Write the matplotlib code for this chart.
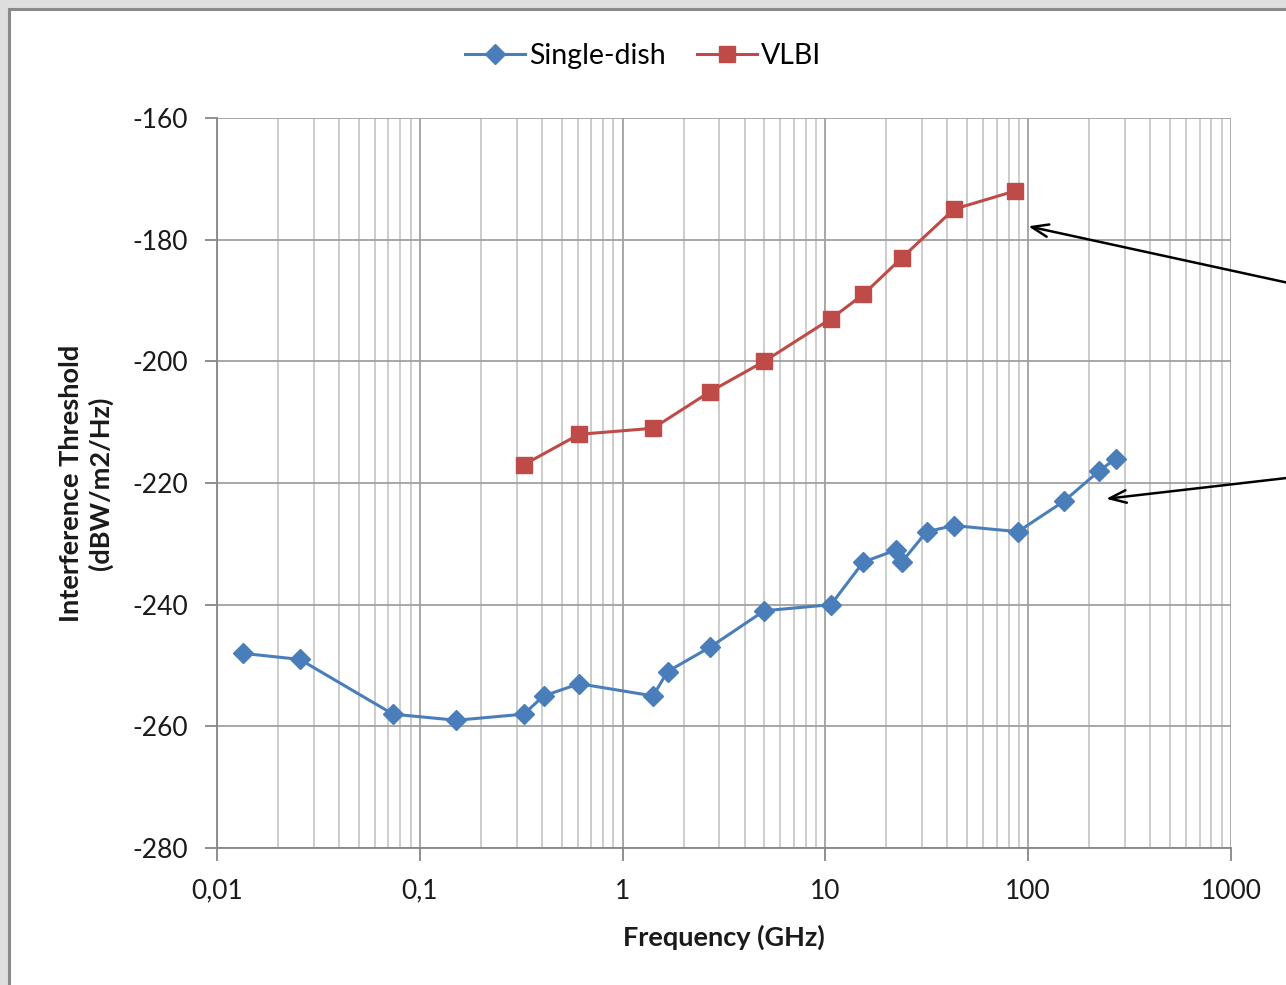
import matplotlib
matplotlib.use("Agg")
import matplotlib.pyplot as plt
from matplotlib.patches import Rectangle
from matplotlib.ticker import FixedLocator, FixedFormatter, LogLocator, NullFormatter

plt.rcParams['font.family'] = ['Lato', 'DejaVu Sans']

# Single-dish thresholds (frequency in GHz, level in dB(W/m2/Hz))
sd_freq = [0.013385, 0.02561, 0.0738, 0.1515, 0.3253, 0.408, 0.611, 1.4135, 1.665,
           2.695, 4.995, 10.65, 15.375, 22.355, 23.8, 31.55, 43.0, 89.0, 150.0, 224.0, 270.0]
sd_level = [-248, -249, -258, -259, -258, -255, -253, -255, -251,
            -247, -241, -240, -233, -231, -233, -228, -227, -228, -223, -218, -216]

# VLBI thresholds
vlbi_freq = [0.3253, 0.611, 1.4135, 2.695, 4.995, 10.65, 15.375, 23.8, 43.0, 86.0]
vlbi_level = [-217, -212, -211, -205, -200, -193, -189, -183, -175, -172]

x_ticks = [0.01, 0.1, 1, 10, 100, 1000]
x_tick_labels = ['0,01', '0,1', '1', '10', '100', '1000']
y_ticks = [-280, -260, -240, -220, -200, -180, -160]
y_tick_labels = ['-280', '-260', '-240', '-220', '-200', '-180', '-160']

W, H = 1286, 985
fig = plt.figure(figsize=(W / 100, H / 100), dpi=100, facecolor='#dedede')

# white chart area with grey frame
fig.patches.append(Rectangle((9 / W, -0.1), 1.2, (H - 9) / H + 0.1, transform=fig.transFigure,
                             facecolor='white', edgecolor='#8a8a8a', linewidth=2.2, zorder=-5))

ax = fig.add_axes([217 / W, (H - 848) / H, (1231 - 217) / W, (848 - 118) / H])
ax.set_facecolor('white')

blue = '#4a7ebb'
red = '#be4b48'
ax.plot(sd_freq, sd_level, color=blue, lw=2.2, marker='D', ms=10.5, mec=blue, mfc=blue,
        label='Single-dish', zorder=3)
ax.plot(vlbi_freq, vlbi_level, color=red, lw=2.2, marker='s', ms=11.5, mec=red, mfc=red,
        label='VLBI', zorder=3)

ax.set_xscale('log')
ax.set_xlim(0.01, 1000)
ax.set_ylim(-280, -160)

ax.xaxis.set_major_locator(FixedLocator(x_ticks))
ax.xaxis.set_major_formatter(FixedFormatter(x_tick_labels))
ax.xaxis.set_minor_locator(LogLocator(base=10, subs=range(2, 10), numticks=20))
ax.xaxis.set_minor_formatter(NullFormatter())
ax.yaxis.set_major_locator(FixedLocator(y_ticks))
ax.yaxis.set_major_formatter(FixedFormatter(y_tick_labels))

ax.grid(True, which='major', axis='both', color='#a0a0a0', lw=1.3)
ax.grid(True, which='minor', axis='x', color='#c8c8c8', lw=1.3)
ax.set_axisbelow(True)

for s in ['top', 'right']:
    ax.spines[s].set_visible(False)
for s in ['left', 'bottom']:
    ax.spines[s].set_color('#868686')
    ax.spines[s].set_linewidth(1.3)

txt = '#1a1a1a'
ax.tick_params(axis='both', which='major', direction='out', length=9, width=1.3,
               color='#868686', labelsize=19, labelcolor=txt)
ax.tick_params(axis='x', which='major', pad=13)
ax.tick_params(axis='y', which='major', pad=12)
ax.tick_params(axis='x', which='minor', length=0)

ax.set_xlabel('Frequency (GHz)', fontsize=19.5, fontweight='bold', labelpad=15, color=txt)
ax.set_ylabel('Interference Threshold\n(dBW/m2/Hz)', fontsize=19.5, fontweight='bold',
              labelpad=14, color=txt, linespacing=1.2)

leg = ax.legend(loc='center', bbox_to_anchor=(0.5, (H - 56) / H), bbox_transform=fig.transFigure,
                ncol=2, frameon=False, fontsize=20.5, handlelength=2.1, columnspacing=1.1,
                handletextpad=0.15)

# pointer arrows coming in from the right
arrow_style = dict(arrowstyle='->,head_length=1.2,head_width=0.45', color='black', lw=1.8,
                   shrinkA=0, shrinkB=0)
ax.annotate('', xy=(100, -177.8), xycoords='data', xytext=(1330, H - 292),
            textcoords='figure pixels', arrowprops=arrow_style, annotation_clip=False)
ax.annotate('', xy=(242, -222.6), xycoords='data', xytext=(1330, H - 473),
            textcoords='figure pixels', arrowprops=arrow_style, annotation_clip=False)

fig.savefig('out.png', dpi=100, facecolor=fig.get_facecolor())
